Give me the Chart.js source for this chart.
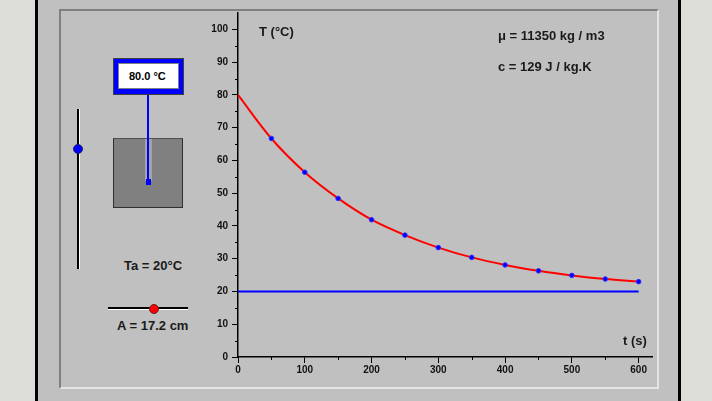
<!DOCTYPE html>
<html>
<head>
<meta charset="utf-8">
<script src="https://cdn.jsdelivr.net/npm/chart.js@4/dist/chart.umd.min.js"></script>
<style>
  body { margin: 0; width: 712px; height: 401px; overflow: hidden; background: #dcdcd8;
         font-family: "Liberation Sans", Arial, sans-serif; position: relative; }
  .abs { position: absolute; }
  .lbl { position: absolute; font-weight: bold; font-size: 13px; line-height: 15px; color: #1a1a1a; white-space: nowrap; }
  #frame { left: 35px; top: 0; width: 640px; height: 401px; background: #c0c0c0;
           border-left: 3px solid #000; border-right: 3px solid #000; }
  #panel { left: 59px; top: 9px; width: 596px; height: 376px;
           border-top: 2px solid #808080; border-left: 2px solid #808080;
           border-right: 2px solid #e4e4e4; border-bottom: 2px solid #e4e4e4; }
  #chart { position: absolute; left: 0; top: 0; }
</style>
</head>
<body>
<div id="frame" class="abs"></div>
<div id="panel" class="abs"></div>

<!-- vertical slider -->
<div class="abs" style="left:77px;top:109px;width:2px;height:160px;background:#000"></div>
<div class="abs" style="left:79px;top:109px;width:1px;height:160px;background:#fff"></div>
<div class="abs" style="left:73px;top:144px;width:8px;height:8px;border-radius:50%;background:#0000ff;border:1px solid #202060"></div>

<!-- block and probe -->
<div class="abs" style="left:113px;top:138px;width:68px;height:68px;background:#808080;border:1px solid #303030;border-top-color:#505050"></div>
<div class="abs" style="left:145px;top:139px;width:7px;height:42px;background:#a4a4a4"></div>
<div class="abs" style="left:147px;top:94px;width:2px;height:86px;background:#0000ff"></div>
<div class="abs" style="left:146px;top:179px;width:5px;height:6px;background:#0000ff"></div>

<!-- display -->
<div class="abs" style="left:113px;top:58px;width:69px;height:35px;background:#0000ff;border:1px solid #404040"></div>
<div class="abs" style="left:118px;top:63px;width:59px;height:24px;background:#fff;border:1px solid #808080"></div>
<div class="lbl" style="left:129px;top:69px;font-size:11px;line-height:15px;color:#000">80.0 °C</div>

<div class="lbl" style="left:124px;top:258px">Ta = 20°C</div>

<!-- horizontal slider -->
<div class="abs" style="left:108px;top:307px;width:80px;height:2px;background:#000"></div>
<div class="abs" style="left:108px;top:309px;width:80px;height:1px;background:#fff"></div>
<div class="abs" style="left:149px;top:304px;width:8px;height:8px;border-radius:50%;background:#ff0000;border:1px solid #602020"></div>
<div class="lbl" style="left:117px;top:318px">A = 17.2 cm</div>

<canvas id="chart" width="712" height="401"></canvas>

<div class="lbl" style="left:259px;top:24px">T (°C)</div>
<div class="lbl" style="left:498px;top:28px">μ = 11350 kg / m3</div>
<div class="lbl" style="left:498px;top:59px">c = 129 J / kg.K</div>
<div class="lbl" style="left:623px;top:333px">t (s)</div>

<script>
// cooling curve
var times = [0, 50, 100, 150, 200, 250, 300, 350, 400, 450, 500, 550, 600];
var temps = [80, 66.7, 56.4, 48.4, 41.9, 37.2, 33.4, 30.4, 28.1, 26.3, 24.9, 23.8, 23.0];

// ambient temperature line
var ambientTimes = [0, 600];
var ambientTemps = [20, 20];

// axis ranges and minor tick positions
var xRange = [0, 620];
var yRange = [0, 105];
var xMinor = [50, 150, 250, 350, 450, 550];
var yMinor = [5, 15, 25, 35, 45, 55, 65, 75, 85, 95];

function pts(xs, ys) {
    return xs.map(function (x, i) { return {x: x, y: ys[i]}; });
}

var minorTicks = {
    id: 'minorTicks',
    afterDraw: function (chart) {
        var ctx = chart.ctx, x = chart.scales.x, y = chart.scales.y;
        ctx.save();
        ctx.strokeStyle = '#000';
        ctx.lineWidth = 1;
        ctx.beginPath();
        xMinor.forEach(function (v) {
            var px = Math.round(x.getPixelForValue(v)) + 0.5;
            ctx.moveTo(px, y.bottom);
            ctx.lineTo(px, y.bottom + 3);
        });
        yMinor.forEach(function (v) {
            var py = Math.round(y.getPixelForValue(v)) + 0.5;
            ctx.moveTo(x.left - 3, py);
            ctx.lineTo(x.left, py);
        });
        ctx.stroke();
        ctx.restore();
    }
};

var tickFont = {family: 'Liberation Sans', size: 10, weight: 'bold'};

var ctx = document.getElementById('chart');
var myChart = new Chart(ctx, {
    type: 'scatter',
    data: {
        datasets: [{
            label: 'points',
            data: pts(times.slice(1), temps.slice(1)),
            showLine: false,
            pointRadius: 2.3,
            pointBackgroundColor: '#0000ff',
            pointBorderColor: '#3030ff',
            pointBorderWidth: 1,
            order: 0
        }, {
            label: 'T',
            data: pts(times, temps),
            showLine: true,
            borderColor: '#ff0000',
            borderWidth: 2,
            pointRadius: 0,
            cubicInterpolationMode: 'monotone',
            order: 1
        }, {
            label: 'Ta',
            data: pts(ambientTimes, ambientTemps),
            showLine: true,
            borderColor: '#0000ff',
            borderWidth: 2,
            pointRadius: 0,
            order: 2
        }]
    },
    options: {
        responsive: false,
        animation: false,
        layout: {padding: {left: 193, right: 60, top: 13, bottom: 24}},
        plugins: {legend: {display: false}, tooltip: {enabled: false}},
        scales: {
            x: {
                type: 'linear',
                min: xRange[0],
                max: xRange[1],
                afterFit: function (s) { s.height = 20; },
                afterBuildTicks: function (s) { s.ticks = s.ticks.filter(function (t) { return t.value <= 600; }); },
                ticks: {stepSize: 100, includeBounds: false, padding: 1, color: '#111', font: tickFont, maxRotation: 0},
                grid: {drawOnChartArea: false, tickLength: 6, tickColor: '#000', tickWidth: 1},
                border: {color: '#000', width: 1.5}
            },
            y: {
                type: 'linear',
                min: yRange[0],
                max: yRange[1],
                afterFit: function (s) { s.width = 45; },
                afterBuildTicks: function (s) { s.ticks = s.ticks.filter(function (t) { return t.value <= 100; }); },
                ticks: {stepSize: 10, includeBounds: false, padding: 4, color: '#111', font: tickFont},
                grid: {drawOnChartArea: false, tickLength: 6, tickColor: '#000', tickWidth: 1},
                border: {color: '#000', width: 1.5}
            }
        }
    },
    plugins: [minorTicks]
});
</script>
</body>
</html>
